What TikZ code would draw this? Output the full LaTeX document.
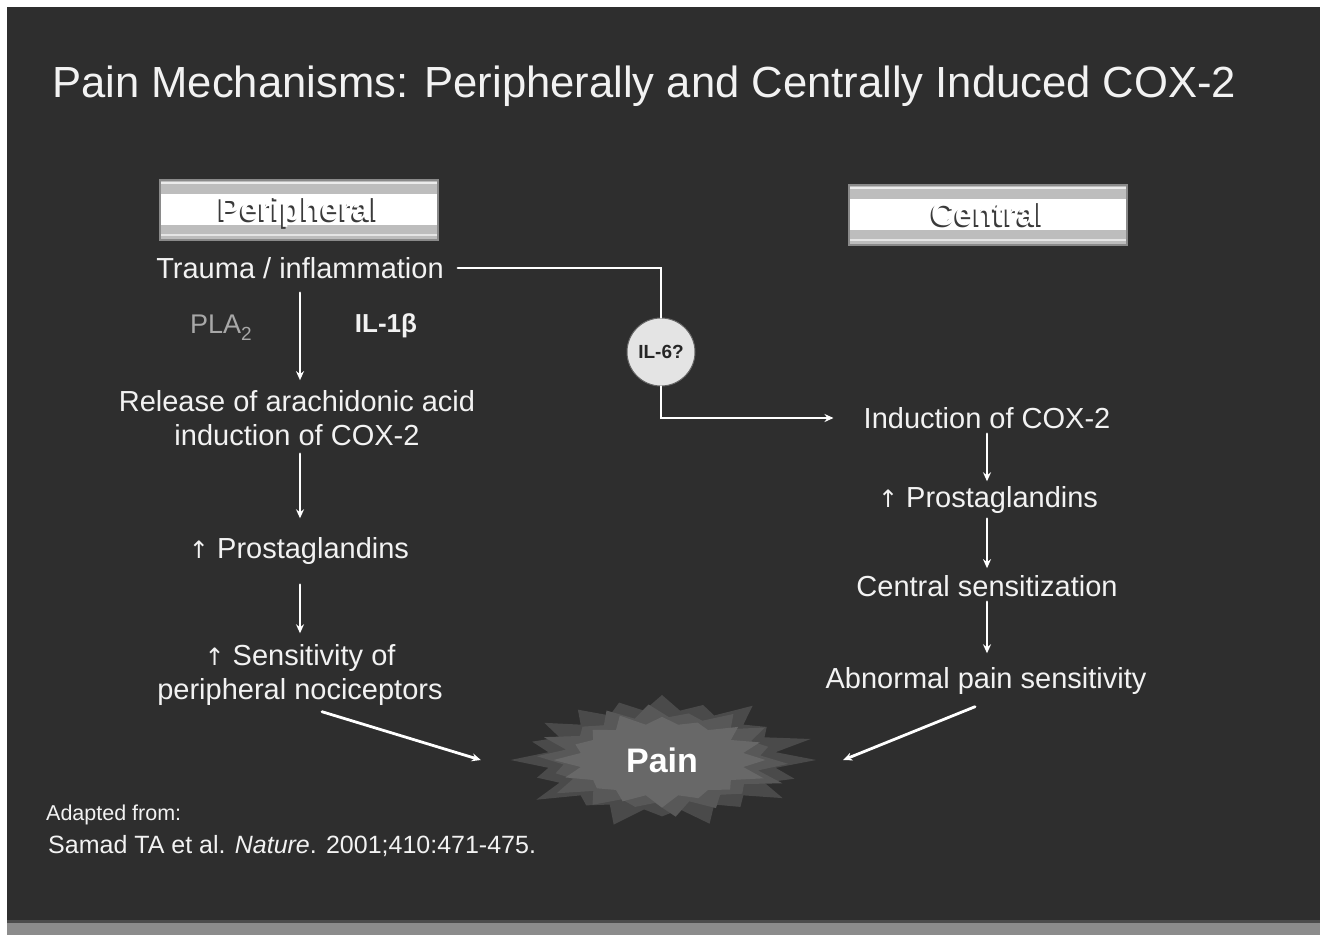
\documentclass[tikz,border=0pt]{standalone}
\usepackage{fontspec}
\setmainfont{Liberation Sans}
\newfontfamily\arrfont{DejaVu Sans}
\usetikzlibrary{arrows.meta,shapes.geometric}
\definecolor{bg}{HTML}{2E2E2E}
\definecolor{txt}{HTML}{F2F2F2}
\definecolor{dimtxt}{HTML}{A8A8A8}
\definecolor{hgray}{HTML}{BDBDBD}
\definecolor{hborder}{HTML}{8A8A8A}
\definecolor{shadowc}{HTML}{3A3A3A}
\definecolor{burstA}{HTML}{4A4A4A}
\definecolor{burstB}{HTML}{585858}
\definecolor{burstC}{HTML}{686868}
\definecolor{circfill}{HTML}{E4E4E4}
\definecolor{stripc}{HTML}{8C8C8C}
\newcommand\embtxt[1]{\rlap{\kern-1.8pt\raisebox{-2pt}{\textcolor{shadowc}{#1}}}#1}
\newcommand\upar{{\arrfont\fontsize{24}{28}\selectfont ↑}}
\tikzset{
  lbl/.style={text=txt, font=\fontsize{29}{34}\selectfont, inner sep=2pt, align=center},
  hdr/.style={minimum width=278, minimum height=60, inner sep=0, fill=hgray, draw=hborder, line width=1.5,
    text=white, font=\bfseries\fontsize{33}{36}\selectfont,
    path picture={
      \fill[white] ([yshift=-14]path picture bounding box.north west) rectangle ([yshift=15]path picture bounding box.south east);
      \fill[white!92!black] ([yshift=-2]path picture bounding box.north west) rectangle ([yshift=-4]path picture bounding box.north east);
      \fill[white!90!black] ([yshift=4]path picture bounding box.south west) rectangle ([yshift=6]path picture bounding box.south east);
    }},
  conn/.style={draw=white, line width=2.8, line cap=round},
  arr/.style={conn, -{Stealth[length=9,width=8]}},
}
\begin{document}
\begin{tikzpicture}[x=1pt,y=-1pt]
\useasboundingbox (0,0) rectangle (1322,939);
\fill[white] (0,0) rectangle (1322,939);
\fill[bg] (7,7) rectangle (1320,921);
\fill[stripc] (7,921) rectangle (1320,935);
\fill[black!70] (7,920) rectangle (1320,923);

% title
\node[text=txt, font=\fontsize{43.6}{48}\selectfont, anchor=west, inner sep=0] (title) at (52,86) {Pain Mechanisms: Peripherally and Centrally Induced COX-2};

% headers
\node[hdr, text height=24, text depth=4] (periph) at (299,210) {\embtxt{Peripheral}};
\node[hdr] (central) at (988,215) {\embtxt{Central}};

% left column
\node[lbl] (trauma) at (300,268) {Trauma / inflammation};
\node[lbl, text=dimtxt, font=\fontsize{27}{30}\selectfont] (pla) at (221,328) {PLA\raisebox{-7pt}{\fontsize{19}{20}\selectfont 2}};
\node[lbl, font=\bfseries\fontsize{26}{30}\selectfont] (il1) at (386,326) {IL-1β};
\node[lbl, align=center] (release) at (297,418) {Release of arachidonic acid\\induction of COX-2};
\node[lbl] (pg1) at (299,551) {\upar\ Prostaglandins};
\node[lbl, align=center] (sens) at (300,675) {\upar\ Sensitivity of\\peripheral nociceptors};

% right column
\node[lbl] (induct) at (987,418) {Induction of COX-2};
\node[lbl] (pg2) at (988,500) {\upar\ Prostaglandins};
\node[lbl] (csens) at (987,586) {Central sensitization};
\node[lbl] (abn) at (986,681) {Abnormal pain sensitivity};

% IL-6 circle
\node[circle, fill=circfill, draw=black!60, line width=1, minimum size=68, inner sep=0, font=\bfseries\fontsize{19}{22}\selectfont, text=black!85] (il6) at (661,352) {IL-6?};

% starburst
\begin{scope}[shift={(662,760)}, xscale=2.3]
\fill[burstA] (0:67) \foreach \i in {1,...,39} { -- ({\i*9}:{ifthenelse(isodd(\i),50,62+6*sin(\i*97))}) } -- cycle;
\fill[burstB] (4:55) \foreach \i in {1,...,35} { -- ({\i*10+4}:{ifthenelse(isodd(\i),43,53+5*sin(\i*61))}) } -- cycle;
\fill[burstC] (0:45) \foreach \i in {1,...,31} { -- ({\i*11.25}:{ifthenelse(isodd(\i),36,44+4*sin(\i*53))}) } -- cycle;
\end{scope}
\node[ellipse, minimum width=362, minimum height=80, inner sep=0, text=white, font=\bfseries\fontsize{34}{38}\selectfont] (pain) at (662,760) {Pain};

% references
\node[text=txt, font=\fontsize{21.5}{24}\selectfont, anchor=west, inner sep=0] (adapt) at (46,815) {Adapted from:};
\node[text=txt, font=\fontsize{25}{28}\selectfont, anchor=west, inner sep=0] (ref) at (48,846) {Samad TA et al. \textit{Nature}. 2001;410:471-475.};

% connectors left (column x = 300)
\draw[arr] ([yshift=-12]trauma.south) -- ([yshift=8]trauma.south |- release.north);
\draw[arr] ([yshift=-6]trauma.south |- release.south) -- ([yshift=17]trauma.south |- pg1.north);
\draw[arr] ([yshift=-18]trauma.south |- pg1.south) -- ([yshift=9]trauma.south |- sens.north);
\draw[arr] ([xshift=22,yshift=-4]sens.south) -- (pain.west);

% connectors right (column x = 987)
\draw[conn] ([xshift=12]trauma.east) -| (il6.north);
\draw[arr] (il6.south) |- ([xshift=-28]induct.west);
\draw[arr] ([yshift=-3]induct.south) -- ([yshift=3]induct.south |- pg2.north);
\draw[arr] ([yshift=-3]induct.south |- pg2.south) -- ([yshift=5]induct.south |- csens.north);
\draw[arr] ([yshift=-3]induct.south |- csens.south) -- ([yshift=12]induct.south |- abn.north);
\draw[arr] ([xshift=-11,yshift=-10]abn.south) -- (pain.east);
\end{tikzpicture}
\end{document}
